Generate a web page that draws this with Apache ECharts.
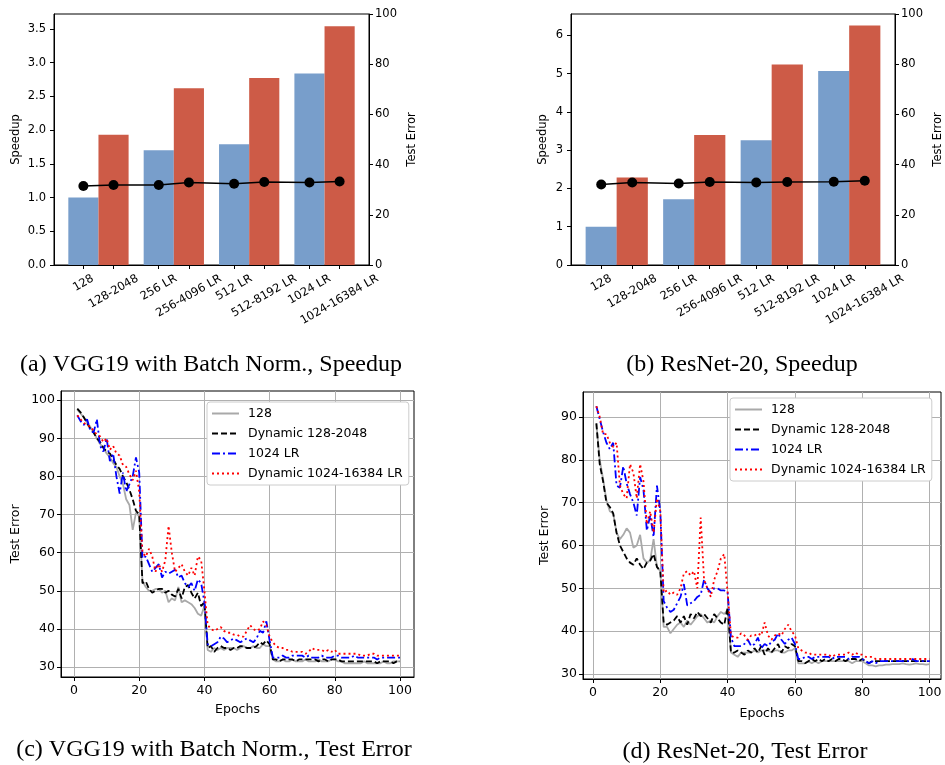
<!DOCTYPE html>
<html><head><meta charset="utf-8">
<script src="https://cdn.jsdelivr.net/npm/echarts@6/dist/echarts.min.js"></script>
<style>html,body{margin:0;padding:0;background:#fff}#c{width:945px;height:765px}</style>
</head><body><div id="c"></div><script>
// ---------- data ----------
const barLabels = ['128','128-2048','256 LR','256-4096 LR','512 LR','512-8192 LR','1024 LR','1024-16384 LR'];
const vggSpeedFixed = [1.0, 1.70, 1.79, 2.84];
const vggSpeedDyn   = [1.93, 2.62, 2.77, 3.54];
const vggErr        = [31.5, 31.9, 31.9, 32.9, 32.4, 33.1, 32.9, 33.3];
const resSpeedFixed = [1.0, 1.72, 3.26, 5.07];
const resSpeedDyn   = [2.29, 3.40, 5.24, 6.26];
const resErr        = [32.1, 32.9, 32.5, 33.1, 32.9, 33.1, 33.2, 33.6];
const vggSpeedTicks = [0,0.5,1,1.5,2,2.5,3,3.5];
const resSpeedTicks = [0,1,2,3,4,5,6];
const errTicks = [0,20,40,60,80,100];
const epochTicks = [0,20,40,60,80,100];
const vggErrTicks = [30,40,50,60,70,80,90,100];
const resErrTicks = [30,40,50,60,70,80,90];
const seriesNames = ['128','Dynamic 128-2048','1024 LR','Dynamic 1024-16384 LR'];

const vgg128 = [97.5,96.5,95.5,94,93,91.5,90,88.5,87.5,86, 85,83.5,82.5,80,78,74,72.5,66,70.5,69.5,
 52.5,51,50,50,50.5,50.5,49.5,50,47,48, 47.5,51,47,47.5,47,46.5,45.5,44,43.5,46,
 34.5,34,35,34.5,35,34.5,35,35,35,34.5, 35,35.5,35,35,35.5,35,35,36,35.5,35.5,
 32,31.5,31.5,32,31.5,31.5,32,31.5,31.5,31.5, 32,31.5,31.5,31.5,32,31.5,31.5,31.5,32,32,
 31.5,31.5,31,31,31,31,31,31,31.5,31, 31,31,31,31,31.5,31,31,31.5,31.5,31.5];
const vggDyn = [97.8,96.8,95.5,94,92.5,91.5,90,89,87.5,86.5, 86,84.5,83,82,80,78.5,76.5,74,71,70,
 52,52.5,50.5,49.5,50,50.5,50.5,49.5,50,49, 48.5,50.5,48,51,51.5,49.5,48,49.5,46,47,
 35,35.5,34,35,35.5,35,35,34.5,35,35, 35.5,35.5,35,35,35,35.5,36.5,36,37,36,
 32,32,31.5,32,32,32,32,31.5,32,32, 32,32,32,32,31.5,32,32,31.5,32,32,
 32,31.5,31.5,31.5,31.5,31.5,31.5,31.5,31.5,31.5, 31.5,31.5,31,31.5,31.5,31.5,31.5,31,31.5,31.5];
const vgg1024 = [96,94.5,93.5,95,92,91.5,95,88,86.5,90, 84,86,80,75.5,81,76,78,80,85,81,
 58.5,59,57,55,56,57,53.5,55,54.5,55, 55.5,53.5,54,52,51,52,50,53,52,47,
 36,35.5,36,36.5,38,37.5,36.5,37,37.5,37, 36.5,37,37.5,37,36.5,37.5,39.5,39,42,37,
 32.5,32.5,32.5,33,32.5,32.5,33,33,33,33, 32.5,33,32.5,32.5,32.5,33,32.5,32.5,32.5,33,
 33,32.5,32.5,32.5,32.5,33,32.5,32.5,32.5,32.5, 32.5,32.5,32,32.5,32.5,32.5,32.5,32.5,32.5,32.5];
const vggDynLR = [96,95,94,93.5,93,92,91,90.5,89,90, 87,88,86,85.5,83,82.5,80.5,79,81.5,76,
 60,59,61,59,55,57,55,58,67,60, 55,56,57,55,54,56,54,59,58,50,
 41,40,39.5,40,40.5,39.5,39,39,38.5,38.5, 38,38,39.5,41,40,39.5,40,42,41,38,
 36.5,35.5,35,35,34.5,34.5,34,34,34,34, 33.5,34,35,34.5,34.5,34.5,34,34.5,34,34.5,
 33.5,33.5,33.5,33.5,33.5,33.5,33.5,33,33,33, 33.5,33.5,33,33,33,33,33,33,33,33];

const res128 = [88.5,80,75.5,70.5,68,67.5,63,61.5,62.5,64, 63,59.5,60,62.5,57,56,56.5,61.5,55,54,
 41,41,39.5,40.5,41.5,42,41,42.5,41.5,42.5, 43.5,44,43,42,42.5,42,43.5,44.5,44,45,
 35,34.5,34,35,35,35,35,35.5,35,35.5, 35.5,35.5,35,35.5,35.5,35,35,35.5,35.5,36,
 32.5,32.5,32.5,33,32.5,33,32.5,33,33,33, 33,33,33,33,33,33,32.5,33,33,33,
 32.5,32,32,31.8,32,32,32.2,32.2,32.3,32.3, 32.3,32.5,32.3,32.2,32.3,32.5,32.3,32.3,32.2,32.3];
const resDyn = [88.5,79,75,70,69,67.5,63,60,58.5,57, 56,55.5,57,55.5,54.5,56,56.5,58,55,54,
 42,41.5,42,42.5,43.5,42,43.5,41.5,44,43, 44.5,43.5,44,43,42,44,43,42,41.5,45.5,
 35,35,35.5,35,34.5,35.5,35,36,35,36.5, 34.5,36,35,36,37,35,36.5,36,37,36.5,
 33,33,32.5,33,33.5,33,33.5,33,33.5,33, 33.5,33,33.5,33.5,33,33.5,33.5,33.5,33,33.5,
 33,32.5,33,33,33,33,33,33,33,33, 33,33,33,33,33,33,33,33,33,33];
const res1024 = [92.5,89.5,86.5,84,82.5,84,74,73.5,78.5,74.5, 72,70,67,76,73,63.5,67,62,74,68,
 47,45.5,44.5,45,46.5,48,51,46,46.5,47, 48,48.5,52,50,49,50,50,49.5,49.5,49,
 38.5,36.5,36.5,36.5,37,38,36.5,37,38.5,36, 37,36.5,37.5,38,39.5,38,37,38,38.5,37,
 33.5,33.5,34,34,33.5,34,34,34,34,34, 33.5,34,34,34,34,33.5,34,34,34,33.5,
 33,32.5,33,32.5,33,33,33,33,33,33, 33,33,33,33,33.5,33,33,33,33,33];
const resDynLR = [92.5,90,86,86,84,83,84,74,72,71, 79,77,71,79,75,65,68,63,71,68,
 49,49.5,48.5,49,48.5,50,53.5,54,53,54, 50,66.5,52,50,48,52,54,57,58,49,
 39,38.5,38.5,39.5,39,38,39,39,39.5,39, 42,39,38,39,39.5,39,40.5,41.5,40,39,
 36,35.5,35,35,34.5,34.5,34.5,34.5,34.5,34.5, 34,34.5,34.5,34.5,34.5,35,34.5,35,34.5,34.5,
 34,34,34,33.5,33.5,33.5,33.5,33.5,33.5,33.5, 33.5,33.5,33.5,33.5,33.5,33.5,33.5,33.5,33.5,33.5];

// ---------- layout / style ----------
const FONT = '"DejaVu Sans", sans-serif';
const BLUE = '#789ecb', RED = '#cd5b47';
const grids = [
  {left:54, top:14, width:315, height:251},
  {left:571, top:14, width:326, height:251},
  {left:61, top:391, width:353, height:286},
  {left:583, top:392, width:358, height:287}
];
const xr = [[-0.39,3.79],[-0.39,3.79],[-4,104.3],[-2.97,103.4]];
function catPos(i){ return Math.floor(i/2) + (i%2)*0.4; }

const axLine = {show:true, onZero:false, lineStyle:{color:'#000', width:1}};
function tick(vals){ return {show:true, inside:false, length:4, customValues:vals, lineStyle:{color:'#000'}}; }
function lbl(vals, fs, fmt, margin){ return {show:true, customValues:vals, color:'#000', fontFamily:FONT, fontSize:fs, margin:margin, formatter:fmt}; }
const gridLine = {show:true, lineStyle:{color:'#b0b0b0', width:1}};

const xAxis = [];
for (let g=0; g<2; g++) {
  xAxis.push({type:'value', gridIndex:g, min:xr[g][0], max:xr[g][1], axisLine:axLine,
    axisTick:tick(barLabels.map((_,i)=>catPos(i))), axisLabel:{show:false}, splitLine:{show:false}});
}
for (let g=2; g<4; g++) {
  xAxis.push({type:'value', gridIndex:g, min:xr[g][0], max:xr[g][1], axisLine:axLine,
    axisTick:tick(epochTicks), axisLabel:lbl(epochTicks, 12.5, v=>String(v), 7),
    splitLine:gridLine, name:'Epochs', nameLocation:'middle', nameGap: g===2?26:28,
    nameTextStyle:{color:'#000', fontFamily:FONT, fontSize:12.5}});
}
const nameStyle = fs => ({color:'#000', fontFamily:FONT, fontSize:fs});
const yAxis = [
  {type:'value', gridIndex:0, min:0, max:3.72, axisLine:axLine, axisTick:tick(vggSpeedTicks),
   axisLabel:lbl(vggSpeedTicks, 11.5, v=>v.toFixed(1), 8), splitLine:{show:false},
   name:'Speedup', nameLocation:'middle', nameGap:32, nameTextStyle:nameStyle(11.5)},
  {type:'value', gridIndex:0, position:'right', min:0, max:100, axisLine:axLine, axisTick:tick(errTicks),
   axisLabel:lbl(errTicks, 11.5, v=>String(v), 6), splitLine:{show:false},
   name:'Test Error', nameLocation:'middle', nameGap:37, nameTextStyle:nameStyle(11.5)},
  {type:'value', gridIndex:1, min:0, max:6.56, axisLine:axLine, axisTick:tick(resSpeedTicks),
   axisLabel:lbl(resSpeedTicks, 11.5, v=>String(v), 8), splitLine:{show:false},
   name:'Speedup', nameLocation:'middle', nameGap:22, nameTextStyle:nameStyle(11.5)},
  {type:'value', gridIndex:1, position:'right', min:0, max:100, axisLine:axLine, axisTick:tick(errTicks),
   axisLabel:lbl(errTicks, 11.5, v=>String(v), 6), splitLine:{show:false},
   name:'Test Error', nameLocation:'middle', nameGap:37, nameTextStyle:nameStyle(11.5)},
  {type:'value', gridIndex:2, min:27.4, max:102.4, axisLine:axLine, axisTick:tick(vggErrTicks),
   axisLabel:lbl(vggErrTicks, 12.5, v=>String(v), 6), splitLine:gridLine,
   name:'Test Error', nameLocation:'middle', nameGap:39, nameTextStyle:nameStyle(12.5)},
  {type:'value', gridIndex:3, min:28.83, max:95.84, axisLine:axLine, axisTick:tick(resErrTicks),
   axisLabel:lbl(resErrTicks, 12.5, v=>String(v), 6), splitLine:gridLine,
   name:'Test Error', nameLocation:'middle', nameGap:32, nameTextStyle:nameStyle(12.5)}
];

function barData(fixed, dyn){
  const out = [];
  for (let k=0;k<fixed.length;k++){
    out.push({value:[catPos(2*k), fixed[k]], itemStyle:{color:BLUE}});
    out.push({value:[catPos(2*k+1), dyn[k]], itemStyle:{color:RED}});
  }
  return out;
}
function errData(err){ return err.map((v,i)=>[catPos(i), v]); }
function epochData(arr){ return arr.map((v,i)=>[i+1, v]); }
function bw(g){ return grids[g].width/(xr[g][1]-xr[g][0])*0.4; }

const lineStyles = [
  {color:'#a9a9a9', width:1.8, type:'solid'},
  {color:'#000000', width:1.8, type:[6,3]},
  {color:'#0000ff', width:1.8, type:[8,3,2,3]},
  {color:'#ff0000', width:1.8, type:[2,3]}
];
const series = [
  {type:'bar', xAxisIndex:0, yAxisIndex:0, barWidth:bw(0), data:barData(vggSpeedFixed, vggSpeedDyn)},
  {type:'line', xAxisIndex:0, yAxisIndex:1, data:errData(vggErr), symbol:'circle', symbolSize:10,
   itemStyle:{color:'#000'}, lineStyle:{color:'#000', width:1.5}},
  {type:'bar', xAxisIndex:1, yAxisIndex:2, barWidth:bw(1), data:barData(resSpeedFixed, resSpeedDyn)},
  {type:'line', xAxisIndex:1, yAxisIndex:3, data:errData(resErr), symbol:'circle', symbolSize:10,
   itemStyle:{color:'#000'}, lineStyle:{color:'#000', width:1.5}}
];
const vggSets = [vgg128, vggDyn, vgg1024, vggDynLR];
const resSets = [res128, resDyn, res1024, resDynLR];
vggSets.forEach((arr,k)=>series.push({type:'line', name:seriesNames[k], xAxisIndex:2, yAxisIndex:4,
  data:epochData(arr), symbol:'none', lineStyle:lineStyles[k], itemStyle:{color:lineStyles[k].color}}));
resSets.forEach((arr,k)=>series.push({type:'line', name:seriesNames[k], xAxisIndex:3, yAxisIndex:5,
  data:epochData(arr), symbol:'none', lineStyle:lineStyles[k], itemStyle:{color:lineStyles[k].color}}));

function legend(left, top){
  return {show:true, orient:'vertical', left:left, top:top, data:seriesNames, itemWidth:27, itemHeight:12,
    itemGap:7, padding:[5,6,5,4], backgroundColor:'#fff', borderColor:'#cccccc', borderWidth:1, borderRadius:3,
    itemStyle:{opacity:0, borderWidth:0},
    textStyle:{color:'#000', fontFamily:FONT, fontSize:12.5, padding:[0,0,0,4]}, selectedMode:false};
}

const option = {
  animation:false,
  backgroundColor:'#fff',
  grid: grids.map(g=>Object.assign({show:true, borderColor:'#000', borderWidth:1, backgroundColor:'transparent'}, g)),
  xAxis, yAxis, series,
  legend:[legend(207,402), legend(730,398)]
};
const chart = echarts.init(document.getElementById('c'), null, {renderer:'canvas'});
chart.setOption(option);

// rotated category labels for the bar charts, centred on their ticks
const ctx = document.createElement('canvas').getContext('2d');
const FS = 11.5;
ctx.font = FS + 'px "DejaVu Sans"';
const graphics = [];
[0,1].forEach(g=>{
  const axisY = grids[g].top + grids[g].height;
  barLabels.forEach((s,i)=>{
    const px = chart.convertToPixel({xAxisIndex:g}, catPos(i));
    const w = ctx.measureText(s).width;
    const bh = w*0.5 + FS*1.15*0.866;
    graphics.push({type:'text', x:px, y:axisY + 7 + bh/2, rotation:Math.PI/6,
      style:{text:s, fill:'#000', font:FS+'px '+FONT, align:'center', verticalAlign:'middle'}});
  });
});
const SERIF = '"Liberation Serif", "Times New Roman", serif';
[['(a) VGG19 with Batch Norm., Speedup',211,365],['(b) ResNet-20, Speedup',742,365],
 ['(c) VGG19 with Batch Norm., Test Error',214,750],['(d) ResNet-20, Test Error',745,752]].forEach(c=>{
  graphics.push({type:'text', x:c[1], y:c[2], style:{text:c[0], fill:'#000', font:'24px '+SERIF, align:'center', verticalAlign:'middle'}});
});
chart.setOption({graphic:graphics});
</script></body></html>
